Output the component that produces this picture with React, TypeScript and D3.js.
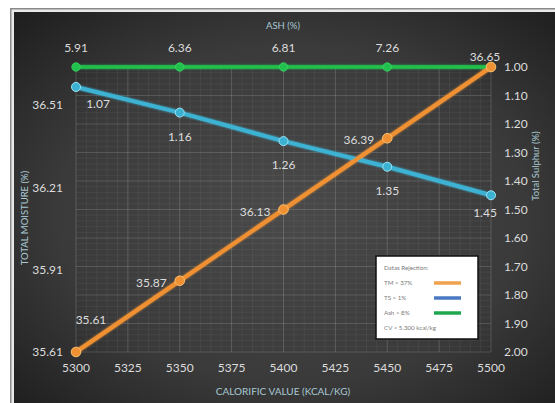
import React from "react";
import * as d3 from "d3";

// Calorific value categories (kcal/kg)
const calorific = [5300, 5350, 5400, 5450, 5500];
// Total moisture (%), left axis
const moisture = [35.61, 35.87, 36.13, 36.39, 36.65];
// Total sulphur (%), right axis (reversed)
const sulphur = [1.07, 1.16, 1.26, 1.35, 1.45];
// Ash (%), drawn as a flat reference line with value labels
const ash = [5.91, 6.36, 6.81, 7.26, 7.71];
const ashLevel = [1.0, 1.0, 1.0, 1.0, 1.0];

const xTicks = [5300, 5325, 5350, 5375, 5400, 5425, 5450, 5475, 5500];
const leftTicks = [35.61, 35.91, 36.21, 36.51];
const rightTicks = [1.0, 1.1, 1.2, 1.3, 1.4, 1.5, 1.6, 1.7, 1.8, 1.9, 2.0];

const legendTitle = "Datas Rejection:";
const legendItems = [
  { label: "TM > 37%", color: "#f0a24e" },
  { label: "TS > 1%", color: "#4a78c4" },
  { label: "Ash > 8%", color: "#1ea84e" },
];
const legendNote = "CV < 5.300 kcal/kg";

const W = 555;
const H = 403;
const plot = { left: 76, right: 491, top: 67, bottom: 352 };

const ORANGE = "#ef9132";
const BLUE = "#3cb2d2";
const GREEN = "#22c04c";
const LABEL = "#dcdcdc";
const TITLE = "#a9c9d3";
const FONT = "Lato, 'Open Sans', sans-serif";

export default function App() {
  const x = d3.scaleLinear().domain([5300, 5500]).range([plot.left, plot.right]);
  const yL = d3.scaleLinear().domain([35.61, 36.65]).range([plot.bottom, plot.top]);
  const yR = d3.scaleLinear().domain([1.0, 2.0]).range([plot.top, plot.bottom]);

  const minorX = d3.range(5300, 5500.01, 5);
  const minorY = d3.range(1.0, 2.0001, 0.02);

  const lineTM = d3.line<number>().x((_, i) => x(calorific[i])).y((d) => yL(d))(moisture) || "";
  const lineTS = d3.line<number>().x((_, i) => x(calorific[i])).y((d) => yR(d))(sulphur) || "";
  const lineAsh = d3.line<number>().x((_, i) => x(calorific[i])).y((d) => yR(d))(ashLevel) || "";

  // label offsets for the moisture series
  const tmLabel = (i: number) => {
    if (i === 0) return { dx: 15, dy: -32, anchor: "middle" };
    if (i === moisture.length - 1) return { dx: -6, dy: -10, anchor: "middle" };
    return { dx: -13, dy: 2, anchor: "end" };
  };
  const tsLabel = (i: number) => {
    if (i === 0) return { dx: 22, dy: 17 };
    if (i === sulphur.length - 1) return { dx: -6, dy: 18 };
    return { dx: 0, dy: 24 };
  };

  const lg = { x: 376, y: 256, w: 102, h: 83 };

  return (
    <svg
      width={W}
      height={H}
      style={{ position: "absolute", left: 0, top: 0, display: "block" }}
      fontFamily={FONT}
    >
      <defs>
        <radialGradient id="bg" cx="50%" cy="50%" r="70%">
          <stop offset="0%" stopColor="#4a4a4a" />
          <stop offset="60%" stopColor="#3a3a3a" />
          <stop offset="100%" stopColor="#1e1e1e" />
        </radialGradient>
        <filter id="glow" x="-10%" y="-10%" width="120%" height="120%">
          <feGaussianBlur in="SourceGraphic" stdDeviation="1.2" result="b" />
          <feMerge>
            <feMergeNode in="b" />
            <feMergeNode in="SourceGraphic" />
          </feMerge>
        </filter>
        <filter id="soft" x="-10%" y="-10%" width="120%" height="120%">
          <feGaussianBlur stdDeviation="0.35" />
        </filter>
      </defs>

      <rect x={0} y={0} width={W} height={H} fill="#ffffff" />
      <rect x={10} y={8} width={W} height={H} fill="#8a8a8a" />
      <rect x={11.5} y={9.5} width={W} height={H} fill="#e8e8e8" />
      <rect x={14} y={12} width={W} height={H} fill="url(#bg)" />

      {/* grid */}
      <g>
        {minorX.map((v) => (
          <line key={"mx" + v} x1={x(v)} x2={x(v)} y1={plot.top} y2={plot.bottom} stroke="#ffffff" strokeOpacity={0.05} />
        ))}
        {minorY.map((v, i) => (
          <line key={"my" + i} x1={plot.left} x2={plot.right} y1={yR(v)} y2={yR(v)} stroke="#ffffff" strokeOpacity={0.05} />
        ))}
        {xTicks.map((v) => (
          <line key={"gx" + v} x1={x(v)} x2={x(v)} y1={plot.top} y2={plot.bottom} stroke="#ffffff" strokeOpacity={0.12} />
        ))}
        {rightTicks.map((v) => (
          <line key={"gy" + v} x1={plot.left} x2={plot.right} y1={yR(v)} y2={yR(v)} stroke="#ffffff" strokeOpacity={0.1} />
        ))}
      </g>

      {/* axis tick labels */}
      <g fill={LABEL} fontSize={12}>
        {xTicks.map((v) => (
          <text key={"xt" + v} x={x(v)} y={372} textAnchor="middle">{v}</text>
        ))}
        {leftTicks.map((v) => (
          <text key={"lt" + v} x={63} y={yL(v) + 4} textAnchor="end">{v.toFixed(2)}</text>
        ))}
        {rightTicks.map((v) => (
          <text key={"rt" + v} x={504} y={yR(v) + 4} textAnchor="start">{v.toFixed(2)}</text>
        ))}
      </g>

      {/* axis titles */}
      <g fill={TITLE} fontSize={9.5}>
        <text x={283} y={29} textAnchor="middle">ASH (%)</text>
        <text x={283} y={395} textAnchor="middle" fontSize={10}>CALORIFIC VALUE (KCAL/KG)</text>
        <text transform="translate(28,218) rotate(-90)" textAnchor="middle">TOTAL MOISTURE (%)</text>
        <text transform="translate(539,166) rotate(-90)" textAnchor="middle">Total Sulphur (%)</text>
      </g>

      {/* series */}
      <g filter="url(#glow)">
        <path d={lineAsh} fill="none" stroke={GREEN} strokeWidth={3.5} />
        <path d={lineTS} fill="none" stroke={BLUE} strokeWidth={4} />
        <path d={lineTM} fill="none" stroke={ORANGE} strokeWidth={4} />
      </g>
      <g>
        {ashLevel.map((v, i) => (
          <circle key={"ap" + i} cx={x(calorific[i])} cy={yR(v)} r={4.2} fill={GREEN} stroke="#3ad86a" strokeWidth={0.8} />
        ))}
        {sulphur.map((v, i) => (
          <circle key={"sp" + i} cx={x(calorific[i])} cy={yR(v)} r={4.5} fill={BLUE} stroke="#9ee4f4" strokeWidth={1} />
        ))}
        {moisture.map((v, i) => (
          <circle key={"mp" + i} cx={x(calorific[i])} cy={yL(v)} r={4.8} fill={ORANGE} stroke="#f8c070" strokeWidth={1} />
        ))}
      </g>

      {/* data labels */}
      <g fill={LABEL} fontSize={12}>
        {ash.slice(0, 4).map((v, i) => (
          <text key={"al" + i} x={x(calorific[i])} y={yR(ashLevel[i]) - 15} textAnchor="middle">{v.toFixed(2)}</text>
        ))}
        {moisture.map((v, i) => {
          const o = tmLabel(i);
          return (
            <text key={"ml" + i} x={x(calorific[i]) + o.dx} y={yL(v) + o.dy + 4} textAnchor={o.anchor}>{v.toFixed(2)}</text>
          );
        })}
        {sulphur.map((v, i) => {
          const o = tsLabel(i);
          return (
            <text key={"sl" + i} x={x(calorific[i]) + o.dx} y={yR(v) + o.dy + 4} textAnchor="middle">{v.toFixed(2)}</text>
          );
        })}
      </g>

      {/* legend */}
      <g fontSize={6.2} fill="#7a7a7a">
        <rect x={lg.x} y={lg.y} width={lg.w} height={lg.h} fill="#ffffff" stroke="#111111" strokeWidth={1.5} />
        <text x={lg.x + 8} y={lg.y + 14}>{legendTitle}</text>
        {legendItems.map((it, i) => (
          <g key={it.label}>
            <text x={lg.x + 8} y={lg.y + 29 + i * 15}>{it.label}</text>
            <line x1={lg.x + 58} x2={lg.x + 85} y1={lg.y + 27 + i * 15} y2={lg.y + 27 + i * 15} stroke={it.color} strokeWidth={3.5} />
          </g>
        ))}
        <text x={lg.x + 8} y={lg.y + 74}>{legendNote}</text>
      </g>
    </svg>
  );
}
